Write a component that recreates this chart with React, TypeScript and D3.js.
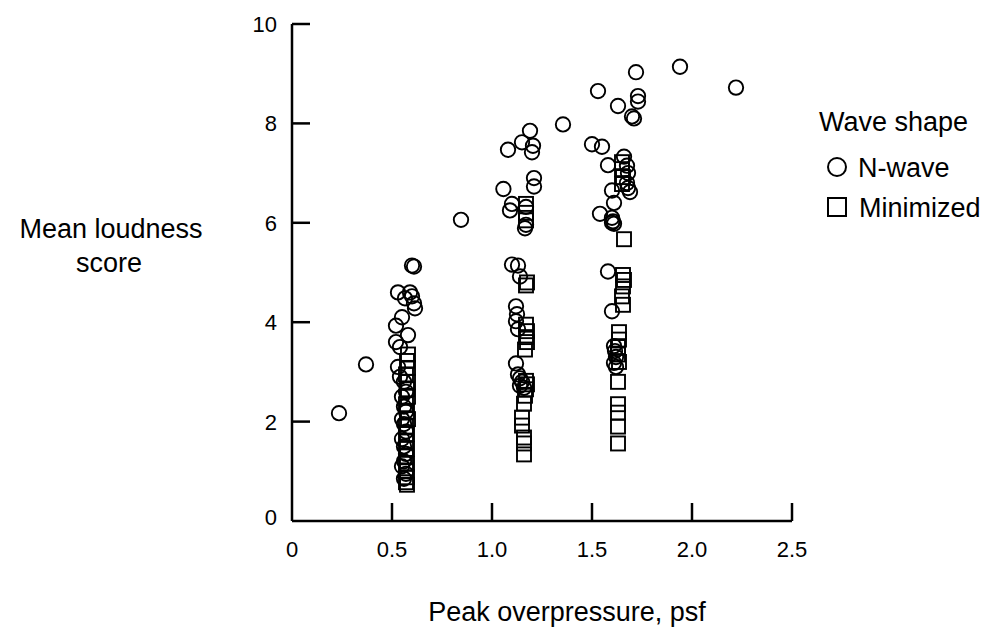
import React from "react";
import * as d3 from "d3";

const xTickValues = [0.5, 1.0, 1.5, 2.0, 2.5];
const xTickLabels = ["0.5", "1.0", "1.5", "2.0", "2.5"];
const yTickValues = [2, 4, 6, 8, 10];
const yTickLabels = ["2", "4", "6", "8", "10"];

// N-wave: [peak overpressure (psf), mean loudness score]
const nWave: [number, number][] = [
  [0.235, 2.17], [0.37, 3.15], [0.845, 6.06], [1.355, 7.98],
  [1.53, 8.65], [1.50, 7.58], [1.55, 7.53], [1.94, 9.14], [2.22, 8.72],
  [1.72, 9.03], [1.63, 8.35], [1.73, 8.55], [1.73, 8.44], [1.71, 8.1], [1.70, 8.14],
  // cluster ~0.55
  [0.60, 5.14], [0.61, 5.12], [0.53, 4.6], [0.59, 4.6], [0.565, 4.48], [0.60, 4.52],
  [0.61, 4.38], [0.615, 4.28], [0.55, 4.1], [0.52, 3.93], [0.58, 3.74], [0.52, 3.6],
  [0.54, 3.5], [0.53, 3.1], [0.54, 2.9], [0.56, 2.8], [0.57, 2.6], [0.55, 2.5],
  [0.56, 2.3], [0.57, 2.2], [0.55, 2.05], [0.56, 1.95], [0.57, 1.8], [0.55, 1.65],
  [0.56, 1.5], [0.57, 1.35], [0.56, 1.2], [0.55, 1.1], [0.57, 0.95], [0.56, 0.85],
  // cluster ~1.15
  [1.19, 7.85], [1.15, 7.62], [1.08, 7.47], [1.205, 7.55], [1.20, 7.42], [1.21, 6.9],
  [1.21, 6.73], [1.057, 6.68], [1.10, 6.38], [1.09, 6.25], [1.17, 6.32], [1.17, 5.96],
  [1.165, 5.89], [1.10, 5.16], [1.13, 5.14], [1.14, 4.92], [1.12, 4.32], [1.125, 4.16],
  [1.12, 4.02], [1.13, 3.86], [1.12, 3.17], [1.13, 2.95], [1.14, 2.87], [1.15, 2.8],
  [1.14, 2.72], [1.16, 2.68],
  // cluster ~1.6
  [1.58, 7.16], [1.66, 7.33], [1.675, 7.15], [1.68, 7.0], [1.675, 6.8], [1.68, 6.7],
  [1.69, 6.62], [1.60, 6.65], [1.61, 6.4], [1.54, 6.18], [1.60, 6.1], [1.605, 6.03],
  [1.61, 5.98], [1.60, 6.0], [1.58, 5.02], [1.60, 4.22], [1.61, 3.52], [1.615, 3.42],
  [1.62, 3.3], [1.61, 3.18], [1.62, 3.1],
];

// Minimized: [peak overpressure (psf), mean loudness score]
const minimized: [number, number][] = [
  // cluster ~0.58
  [0.58, 3.35], [0.575, 3.22], [0.58, 3.08], [0.57, 2.95], [0.58, 2.8], [0.575, 2.65],
  [0.58, 2.5], [0.57, 2.35], [0.575, 2.2], [0.58, 2.05], [0.57, 1.9], [0.575, 1.75],
  [0.57, 1.6], [0.575, 1.45], [0.57, 1.3], [0.575, 1.15], [0.57, 1.0], [0.575, 0.88],
  [0.57, 0.78], [0.575, 0.73],
  // cluster ~1.17
  [1.17, 6.38], [1.17, 6.2], [1.17, 6.05], [1.175, 4.8], [1.17, 4.74], [1.17, 3.95],
  [1.175, 3.82], [1.17, 3.7], [1.175, 3.6], [1.165, 3.45], [1.17, 2.82], [1.175, 2.75],
  [1.17, 2.65], [1.165, 2.52], [1.16, 2.36], [1.15, 2.08], [1.15, 1.92], [1.16, 1.68],
  [1.16, 1.56], [1.16, 1.34],
  // cluster ~1.64
  [1.65, 7.22], [1.65, 7.08], [1.655, 6.92], [1.65, 6.78], [1.66, 5.67], [1.655, 4.95],
  [1.66, 4.85], [1.655, 4.72], [1.65, 4.52], [1.655, 4.35], [1.635, 3.8], [1.635, 3.65],
  [1.63, 3.5], [1.63, 3.35], [1.635, 3.2], [1.63, 2.8], [1.63, 2.35], [1.63, 2.18],
  [1.63, 1.9], [1.63, 1.56],
];

const FONT = "'Liberation Sans', Arial, Helvetica, sans-serif";

export default function App() {
  const x = d3.scaleLinear().domain([0, 2.5]).range([292, 792]);
  const y = d3.scaleLinear().domain([0, 10]).range([521, 24]);
  const r = 7.2;
  const s = 14;
  const sw = 1.9;

  return (
    <svg
      width={1000}
      height={639}
      style={{ position: "absolute", left: 0, top: 0, background: "#fff" }}
      fontFamily={FONT}
    >
      <rect x={0} y={0} width={1000} height={639} fill="#fff" />
      {/* axes */}
      <line x1={x(0)} x2={x(0)} y1={y(10)} y2={y(0)} stroke="#000" strokeWidth={2.5} />
      <line x1={x(0)} x2={x(2.5)} y1={y(0)} y2={y(0)} stroke="#000" strokeWidth={2.5} />
      {yTickValues.map((v) => (
        <line key={"yt" + v} x1={x(0)} x2={x(0) + 18} y1={y(v)} y2={y(v)} stroke="#000" strokeWidth={2.5} />
      ))}
      {xTickValues.map((v) => (
        <line key={"xt" + v} x1={x(v)} x2={x(v)} y1={y(0)} y2={y(0) - 18} stroke="#000" strokeWidth={2.5} />
      ))}
      {/* tick labels */}
      {yTickValues.map((v, i) => (
        <text key={"yl" + v} x={277} y={y(v) + 8} textAnchor="end" fontSize={22}>
          {yTickLabels[i]}
        </text>
      ))}
      <text x={277} y={y(0) + 4} textAnchor="end" fontSize={22}>0</text>
      <text x={x(0)} y={557} textAnchor="middle" fontSize={22}>0</text>
      {xTickValues.map((v, i) => (
        <text key={"xl" + v} x={x(v)} y={557} textAnchor="middle" fontSize={22}>
          {xTickLabels[i]}
        </text>
      ))}
      {/* axis titles */}
      <text x={111} y={238} textAnchor="middle" fontSize={27}>Mean loudness</text>
      <text x={109} y={272} textAnchor="middle" fontSize={27}>score</text>
      <text x={567} y={621} textAnchor="middle" fontSize={27}>Peak overpressure, psf</text>

      {/* data */}
      {minimized.map((d, i) => (
        <rect
          key={"m" + i}
          x={x(d[0]) - s / 2}
          y={y(d[1]) - s / 2}
          width={s}
          height={s}
          fill="none"
          stroke="#000"
          strokeWidth={sw}
        />
      ))}
      {nWave.map((d, i) => (
        <circle key={"n" + i} cx={x(d[0])} cy={y(d[1])} r={r} fill="none" stroke="#000" strokeWidth={sw} />
      ))}

      {/* legend */}
      <text x={819} y={131} fontSize={27}>Wave shape</text>
      <circle cx={837} cy={167} r={9} fill="none" stroke="#000" strokeWidth={2} />
      <text x={858} y={177} fontSize={27}>N-wave</text>
      <rect x={828} y={198} width={18} height={18} fill="none" stroke="#000" strokeWidth={2} />
      <text x={859} y={217} fontSize={27}>Minimized</text>
    </svg>
  );
}
